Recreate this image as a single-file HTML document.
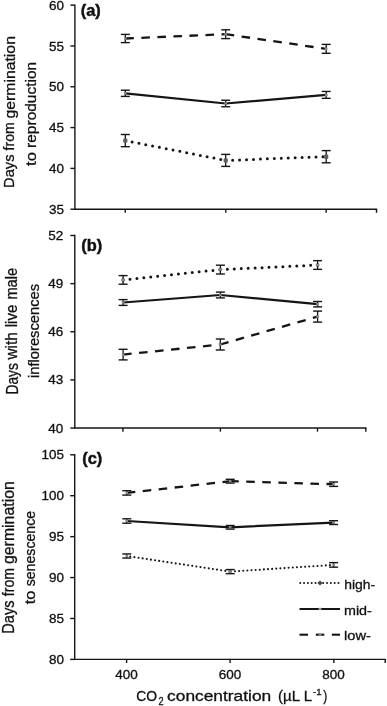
<!DOCTYPE html>
<html lang="en">
<head>
<meta charset="utf-8">
<title>Figure</title>
<style>
html,body{margin:0;padding:0;background:#fff;}
body{width:387px;height:706px;overflow:hidden;}
svg{display:block;font-family:'Liberation Sans', Arial, sans-serif;}
</style>
</head>
<body>
<svg width="387" height="706" viewBox="0 0 387 706">
<rect width="387" height="706" fill="#fff"/>
<line x1="74.90" y1="4.45" x2="74.90" y2="209.90" stroke="#151515" stroke-width="1.4" />
<line x1="74.90" y1="209.20" x2="377.20" y2="209.20" stroke="#151515" stroke-width="1.4" />
<line x1="70.40" y1="5.15" x2="74.90" y2="5.15" stroke="#151515" stroke-width="1.4" />
<text x="64.00" y="9.72" font-size="12.2" text-anchor="end" font-weight="normal" fill="#111" stroke="#111" stroke-width="0.3" textLength="15.0" lengthAdjust="spacingAndGlyphs">60</text>
<line x1="70.40" y1="45.96" x2="74.90" y2="45.96" stroke="#151515" stroke-width="1.4" />
<text x="64.00" y="50.59" font-size="12.2" text-anchor="end" font-weight="normal" fill="#111" stroke="#111" stroke-width="0.3" textLength="15.0" lengthAdjust="spacingAndGlyphs">55</text>
<line x1="70.40" y1="86.77" x2="74.90" y2="86.77" stroke="#151515" stroke-width="1.4" />
<text x="64.00" y="91.46" font-size="12.2" text-anchor="end" font-weight="normal" fill="#111" stroke="#111" stroke-width="0.3" textLength="15.0" lengthAdjust="spacingAndGlyphs">50</text>
<line x1="70.40" y1="127.58" x2="74.90" y2="127.58" stroke="#151515" stroke-width="1.4" />
<text x="64.00" y="132.33" font-size="12.2" text-anchor="end" font-weight="normal" fill="#111" stroke="#111" stroke-width="0.3" textLength="15.0" lengthAdjust="spacingAndGlyphs">45</text>
<line x1="70.40" y1="168.39" x2="74.90" y2="168.39" stroke="#151515" stroke-width="1.4" />
<text x="64.00" y="173.20" font-size="12.2" text-anchor="end" font-weight="normal" fill="#111" stroke="#111" stroke-width="0.3" textLength="15.0" lengthAdjust="spacingAndGlyphs">40</text>
<line x1="70.40" y1="209.20" x2="74.90" y2="209.20" stroke="#151515" stroke-width="1.4" />
<text x="64.00" y="214.07" font-size="12.2" text-anchor="end" font-weight="normal" fill="#111" stroke="#111" stroke-width="0.3" textLength="15.0" lengthAdjust="spacingAndGlyphs">35</text>
<line x1="125.30" y1="209.20" x2="125.30" y2="212.80" stroke="#151515" stroke-width="1.4" />
<line x1="225.75" y1="209.20" x2="225.75" y2="212.80" stroke="#151515" stroke-width="1.4" />
<line x1="326.20" y1="209.20" x2="326.20" y2="212.80" stroke="#151515" stroke-width="1.4" />
<line x1="376.50" y1="209.20" x2="376.50" y2="212.80" stroke="#151515" stroke-width="1.4" />
<text x="80.80" y="15.60" font-size="16.4" text-anchor="start" font-weight="bold" fill="#111" stroke="#111" stroke-width="0.45">(a)</text>
<text x="14.50" y="187.90" font-size="15.2" text-anchor="start" font-weight="normal" fill="#111" stroke="#111" stroke-width="0.3" textLength="33.4" lengthAdjust="spacingAndGlyphs" transform="rotate(-90 14.50 187.90)">Days</text>
<text x="14.50" y="150.40" font-size="15.2" text-anchor="start" font-weight="normal" fill="#111" stroke="#111" stroke-width="0.3" textLength="28.1" lengthAdjust="spacingAndGlyphs" transform="rotate(-90 14.50 150.40)">from</text>
<text x="14.50" y="118.50" font-size="15.2" text-anchor="start" font-weight="normal" fill="#111" stroke="#111" stroke-width="0.3" textLength="82.4" lengthAdjust="spacingAndGlyphs" transform="rotate(-90 14.50 118.50)">germination</text>
<text x="36.00" y="166.00" font-size="15.2" text-anchor="start" font-weight="normal" fill="#111" stroke="#111" stroke-width="0.3" textLength="13.9" lengthAdjust="spacingAndGlyphs" transform="rotate(-90 36.00 166.00)">to</text>
<text x="36.00" y="147.90" font-size="15.2" text-anchor="start" font-weight="normal" fill="#111" stroke="#111" stroke-width="0.3" textLength="86.1" lengthAdjust="spacingAndGlyphs" transform="rotate(-90 36.00 147.90)">reproduction</text>
<path d="M125.30 38.50 L225.70 34.20" fill="none" stroke="#151515" stroke-width="2.3" stroke-dasharray="8.55 7.5"/>
<path d="M225.70 34.20 L326.20 48.85" fill="none" stroke="#151515" stroke-width="2.3" stroke-dasharray="8.55 7.5"/>
<line x1="125.30" y1="34.40" x2="125.30" y2="42.60" stroke="#151515" stroke-width="1.3" />
<line x1="120.80" y1="34.40" x2="129.80" y2="34.40" stroke="#151515" stroke-width="1.4" />
<line x1="120.80" y1="42.60" x2="129.80" y2="42.60" stroke="#151515" stroke-width="1.4" />
<rect x="124.00" y="37.30" width="2.6" height="2.4" fill="#8a8a8a"/>
<line x1="225.70" y1="29.80" x2="225.70" y2="38.60" stroke="#151515" stroke-width="1.3" />
<line x1="221.20" y1="29.80" x2="230.20" y2="29.80" stroke="#151515" stroke-width="1.4" />
<line x1="221.20" y1="38.60" x2="230.20" y2="38.60" stroke="#151515" stroke-width="1.4" />
<rect x="224.40" y="33.00" width="2.6" height="2.4" fill="#8a8a8a"/>
<line x1="326.20" y1="44.40" x2="326.20" y2="53.30" stroke="#151515" stroke-width="1.3" />
<line x1="321.70" y1="44.40" x2="330.70" y2="44.40" stroke="#151515" stroke-width="1.4" />
<line x1="321.70" y1="53.30" x2="330.70" y2="53.30" stroke="#151515" stroke-width="1.4" />
<rect x="324.90" y="47.65" width="2.6" height="2.4" fill="#8a8a8a"/>
<path d="M125.30 93.30 L225.70 103.50" fill="none" stroke="#151515" stroke-width="2.25" stroke-linecap="round"/>
<path d="M225.70 103.50 L326.20 94.90" fill="none" stroke="#151515" stroke-width="2.25" stroke-linecap="round"/>
<line x1="125.30" y1="90.20" x2="125.30" y2="96.40" stroke="#151515" stroke-width="1.3" />
<line x1="120.80" y1="90.20" x2="129.80" y2="90.20" stroke="#151515" stroke-width="1.4" />
<line x1="120.80" y1="96.40" x2="129.80" y2="96.40" stroke="#151515" stroke-width="1.4" />
<rect x="124.00" y="92.10" width="2.6" height="2.4" fill="#8a8a8a"/>
<line x1="225.70" y1="100.25" x2="225.70" y2="106.75" stroke="#151515" stroke-width="1.3" />
<line x1="221.20" y1="100.25" x2="230.20" y2="100.25" stroke="#151515" stroke-width="1.4" />
<line x1="221.20" y1="106.75" x2="230.20" y2="106.75" stroke="#151515" stroke-width="1.4" />
<rect x="224.40" y="102.30" width="2.6" height="2.4" fill="#8a8a8a"/>
<line x1="326.20" y1="91.45" x2="326.20" y2="98.35" stroke="#151515" stroke-width="1.3" />
<line x1="321.70" y1="91.45" x2="330.70" y2="91.45" stroke="#151515" stroke-width="1.4" />
<line x1="321.70" y1="98.35" x2="330.70" y2="98.35" stroke="#151515" stroke-width="1.4" />
<rect x="324.90" y="93.70" width="2.6" height="2.4" fill="#8a8a8a"/>
<path d="M125.30 140.60 L225.70 160.40" fill="none" stroke="#151515" stroke-width="3" stroke-dasharray="0 6.95" stroke-linecap="round"/>
<path d="M225.70 160.40 L326.20 156.70" fill="none" stroke="#151515" stroke-width="3" stroke-dasharray="0 6.95" stroke-linecap="round"/>
<line x1="125.30" y1="134.50" x2="125.30" y2="146.70" stroke="#151515" stroke-width="1.3" />
<line x1="120.80" y1="134.50" x2="129.80" y2="134.50" stroke="#151515" stroke-width="1.4" />
<line x1="120.80" y1="146.70" x2="129.80" y2="146.70" stroke="#151515" stroke-width="1.4" />
<rect x="123.20" y="138.50" width="4.2" height="4.3" rx="1.2" fill="#5e5e5e"/>
<line x1="225.70" y1="154.40" x2="225.70" y2="166.40" stroke="#151515" stroke-width="1.3" />
<line x1="221.20" y1="154.40" x2="230.20" y2="154.40" stroke="#151515" stroke-width="1.4" />
<line x1="221.20" y1="166.40" x2="230.20" y2="166.40" stroke="#151515" stroke-width="1.4" />
<rect x="223.60" y="158.30" width="4.2" height="4.3" rx="1.2" fill="#5e5e5e"/>
<line x1="326.20" y1="150.60" x2="326.20" y2="162.80" stroke="#151515" stroke-width="1.3" />
<line x1="321.70" y1="150.60" x2="330.70" y2="150.60" stroke="#151515" stroke-width="1.4" />
<line x1="321.70" y1="162.80" x2="330.70" y2="162.80" stroke="#151515" stroke-width="1.4" />
<rect x="324.10" y="154.60" width="4.2" height="4.3" rx="1.2" fill="#5e5e5e"/>
<line x1="74.80" y1="234.80" x2="74.80" y2="428.75" stroke="#151515" stroke-width="1.4" />
<line x1="74.80" y1="428.05" x2="366.50" y2="428.05" stroke="#151515" stroke-width="1.4" />
<line x1="70.30" y1="235.50" x2="74.80" y2="235.50" stroke="#151515" stroke-width="1.4" />
<text x="63.20" y="239.57" font-size="12.2" text-anchor="end" font-weight="normal" fill="#111" stroke="#111" stroke-width="0.3" textLength="15.0" lengthAdjust="spacingAndGlyphs">52</text>
<line x1="70.30" y1="283.64" x2="74.80" y2="283.64" stroke="#151515" stroke-width="1.4" />
<text x="63.20" y="287.81" font-size="12.2" text-anchor="end" font-weight="normal" fill="#111" stroke="#111" stroke-width="0.3" textLength="15.0" lengthAdjust="spacingAndGlyphs">49</text>
<line x1="70.30" y1="331.77" x2="74.80" y2="331.77" stroke="#151515" stroke-width="1.4" />
<text x="63.20" y="336.04" font-size="12.2" text-anchor="end" font-weight="normal" fill="#111" stroke="#111" stroke-width="0.3" textLength="15.0" lengthAdjust="spacingAndGlyphs">46</text>
<line x1="70.30" y1="379.91" x2="74.80" y2="379.91" stroke="#151515" stroke-width="1.4" />
<text x="63.20" y="384.28" font-size="12.2" text-anchor="end" font-weight="normal" fill="#111" stroke="#111" stroke-width="0.3" textLength="15.0" lengthAdjust="spacingAndGlyphs">43</text>
<line x1="70.30" y1="428.05" x2="74.80" y2="428.05" stroke="#151515" stroke-width="1.4" />
<text x="63.20" y="432.52" font-size="12.2" text-anchor="end" font-weight="normal" fill="#111" stroke="#111" stroke-width="0.3" textLength="15.0" lengthAdjust="spacingAndGlyphs">40</text>
<line x1="122.90" y1="428.05" x2="122.90" y2="431.65" stroke="#151515" stroke-width="1.4" />
<line x1="220.40" y1="428.05" x2="220.40" y2="431.65" stroke="#151515" stroke-width="1.4" />
<line x1="317.50" y1="428.05" x2="317.50" y2="431.65" stroke="#151515" stroke-width="1.4" />
<line x1="365.80" y1="428.05" x2="365.80" y2="431.65" stroke="#151515" stroke-width="1.4" />
<text x="81.20" y="251.20" font-size="16.4" text-anchor="start" font-weight="bold" fill="#111" stroke="#111" stroke-width="0.45">(b)</text>
<text x="17.50" y="394.50" font-size="15.7" text-anchor="start" font-weight="normal" fill="#111" stroke="#111" stroke-width="0.3" textLength="31.4" lengthAdjust="spacingAndGlyphs" transform="rotate(-90 17.50 394.50)">Days</text>
<text x="17.50" y="359.52" font-size="15.7" text-anchor="start" font-weight="normal" fill="#111" stroke="#111" stroke-width="0.3" textLength="27.3" lengthAdjust="spacingAndGlyphs" transform="rotate(-90 17.50 359.52)">with</text>
<text x="17.50" y="327.30" font-size="15.7" text-anchor="start" font-weight="normal" fill="#111" stroke="#111" stroke-width="0.3" textLength="22.6" lengthAdjust="spacingAndGlyphs" transform="rotate(-90 17.50 327.30)">live</text>
<text x="17.50" y="299.60" font-size="15.7" text-anchor="start" font-weight="normal" fill="#111" stroke="#111" stroke-width="0.3" textLength="31.7" lengthAdjust="spacingAndGlyphs" transform="rotate(-90 17.50 299.60)">male</text>
<text x="38.80" y="378.00" font-size="15.4" text-anchor="start" font-weight="normal" fill="#111" stroke="#111" stroke-width="0.3" textLength="94.1" lengthAdjust="spacingAndGlyphs" transform="rotate(-90 38.80 378.00)">inflorescences</text>
<path d="M123.10 279.90 L220.40 269.60" fill="none" stroke="#151515" stroke-width="3" stroke-dasharray="0 6.95" stroke-linecap="round"/>
<path d="M220.40 269.60 L317.60 265.00" fill="none" stroke="#151515" stroke-width="3" stroke-dasharray="0 6.95" stroke-linecap="round"/>
<path d="M123.10 277.30 L125.30 279.90 L123.10 282.50 L120.90 279.90 Z" fill="#7a7a7a"/>
<line x1="123.10" y1="275.60" x2="123.10" y2="284.20" stroke="#151515" stroke-width="1.3" />
<line x1="118.60" y1="275.60" x2="127.60" y2="275.60" stroke="#151515" stroke-width="1.4" />
<line x1="118.60" y1="284.20" x2="127.60" y2="284.20" stroke="#151515" stroke-width="1.4" />
<rect x="121.80" y="278.70" width="2.6" height="2.4" fill="#8a8a8a"/>
<path d="M220.40 267.00 L222.60 269.60 L220.40 272.20 L218.20 269.60 Z" fill="#7a7a7a"/>
<line x1="220.40" y1="265.20" x2="220.40" y2="274.00" stroke="#151515" stroke-width="1.3" />
<line x1="215.90" y1="265.20" x2="224.90" y2="265.20" stroke="#151515" stroke-width="1.4" />
<line x1="215.90" y1="274.00" x2="224.90" y2="274.00" stroke="#151515" stroke-width="1.4" />
<rect x="219.10" y="268.40" width="2.6" height="2.4" fill="#8a8a8a"/>
<path d="M317.60 262.40 L319.80 265.00 L317.60 267.60 L315.40 265.00 Z" fill="#7a7a7a"/>
<line x1="317.60" y1="260.65" x2="317.60" y2="269.35" stroke="#151515" stroke-width="1.3" />
<line x1="313.10" y1="260.65" x2="322.10" y2="260.65" stroke="#151515" stroke-width="1.4" />
<line x1="313.10" y1="269.35" x2="322.10" y2="269.35" stroke="#151515" stroke-width="1.4" />
<rect x="316.30" y="263.80" width="2.6" height="2.4" fill="#8a8a8a"/>
<path d="M123.10 302.50 L220.40 295.00" fill="none" stroke="#151515" stroke-width="2.25" stroke-linecap="round"/>
<path d="M220.40 295.00 L317.60 304.20" fill="none" stroke="#151515" stroke-width="2.25" stroke-linecap="round"/>
<line x1="123.10" y1="299.60" x2="123.10" y2="305.40" stroke="#151515" stroke-width="1.3" />
<line x1="118.60" y1="299.60" x2="127.60" y2="299.60" stroke="#151515" stroke-width="1.4" />
<line x1="118.60" y1="305.40" x2="127.60" y2="305.40" stroke="#151515" stroke-width="1.4" />
<rect x="121.80" y="301.30" width="2.6" height="2.4" fill="#8a8a8a"/>
<line x1="220.40" y1="292.10" x2="220.40" y2="297.90" stroke="#151515" stroke-width="1.3" />
<line x1="215.90" y1="292.10" x2="224.90" y2="292.10" stroke="#151515" stroke-width="1.4" />
<line x1="215.90" y1="297.90" x2="224.90" y2="297.90" stroke="#151515" stroke-width="1.4" />
<rect x="219.10" y="293.80" width="2.6" height="2.4" fill="#8a8a8a"/>
<line x1="317.60" y1="301.50" x2="317.60" y2="306.90" stroke="#151515" stroke-width="1.3" />
<line x1="313.10" y1="301.50" x2="322.10" y2="301.50" stroke="#151515" stroke-width="1.4" />
<line x1="313.10" y1="306.90" x2="322.10" y2="306.90" stroke="#151515" stroke-width="1.4" />
<rect x="316.30" y="303.00" width="2.6" height="2.4" fill="#8a8a8a"/>
<path d="M123.10 354.60 L220.30 344.50" fill="none" stroke="#151515" stroke-width="2.3" stroke-dasharray="8.55 7.5"/>
<path d="M220.30 344.50 L317.60 316.60" fill="none" stroke="#151515" stroke-width="2.3" stroke-dasharray="8.55 7.5"/>
<line x1="123.10" y1="349.30" x2="123.10" y2="359.90" stroke="#151515" stroke-width="1.3" />
<line x1="118.60" y1="349.30" x2="127.60" y2="349.30" stroke="#151515" stroke-width="1.4" />
<line x1="118.60" y1="359.90" x2="127.60" y2="359.90" stroke="#151515" stroke-width="1.4" />
<rect x="121.80" y="353.40" width="2.6" height="2.4" fill="#8a8a8a"/>
<line x1="220.30" y1="339.00" x2="220.30" y2="350.00" stroke="#151515" stroke-width="1.3" />
<line x1="215.80" y1="339.00" x2="224.80" y2="339.00" stroke="#151515" stroke-width="1.4" />
<line x1="215.80" y1="350.00" x2="224.80" y2="350.00" stroke="#151515" stroke-width="1.4" />
<rect x="219.00" y="343.30" width="2.6" height="2.4" fill="#8a8a8a"/>
<line x1="317.60" y1="311.10" x2="317.60" y2="322.10" stroke="#151515" stroke-width="1.3" />
<line x1="313.10" y1="311.10" x2="322.10" y2="311.10" stroke="#151515" stroke-width="1.4" />
<line x1="313.10" y1="322.10" x2="322.10" y2="322.10" stroke="#151515" stroke-width="1.4" />
<rect x="316.30" y="315.40" width="2.6" height="2.4" fill="#8a8a8a"/>
<line x1="74.70" y1="454.10" x2="74.70" y2="660.10" stroke="#151515" stroke-width="1.4" />
<line x1="74.70" y1="659.40" x2="385.90" y2="659.40" stroke="#151515" stroke-width="1.4" />
<line x1="70.20" y1="454.80" x2="74.70" y2="454.80" stroke="#151515" stroke-width="1.4" />
<text x="64.00" y="458.97" font-size="12.2" text-anchor="end" font-weight="normal" fill="#111" stroke="#111" stroke-width="0.3" textLength="22.4" lengthAdjust="spacingAndGlyphs">105</text>
<line x1="70.20" y1="495.72" x2="74.70" y2="495.72" stroke="#151515" stroke-width="1.4" />
<text x="64.00" y="499.93" font-size="12.2" text-anchor="end" font-weight="normal" fill="#111" stroke="#111" stroke-width="0.3" textLength="22.4" lengthAdjust="spacingAndGlyphs">100</text>
<line x1="70.20" y1="536.64" x2="74.70" y2="536.64" stroke="#151515" stroke-width="1.4" />
<text x="64.00" y="540.89" font-size="12.2" text-anchor="end" font-weight="normal" fill="#111" stroke="#111" stroke-width="0.3" textLength="15.0" lengthAdjust="spacingAndGlyphs">95</text>
<line x1="70.20" y1="577.56" x2="74.70" y2="577.56" stroke="#151515" stroke-width="1.4" />
<text x="64.00" y="581.85" font-size="12.2" text-anchor="end" font-weight="normal" fill="#111" stroke="#111" stroke-width="0.3" textLength="15.0" lengthAdjust="spacingAndGlyphs">90</text>
<line x1="70.20" y1="618.48" x2="74.70" y2="618.48" stroke="#151515" stroke-width="1.4" />
<text x="64.00" y="622.81" font-size="12.2" text-anchor="end" font-weight="normal" fill="#111" stroke="#111" stroke-width="0.3" textLength="15.0" lengthAdjust="spacingAndGlyphs">85</text>
<line x1="70.20" y1="659.40" x2="74.70" y2="659.40" stroke="#151515" stroke-width="1.4" />
<text x="64.00" y="663.77" font-size="12.2" text-anchor="end" font-weight="normal" fill="#111" stroke="#111" stroke-width="0.3" textLength="15.0" lengthAdjust="spacingAndGlyphs">80</text>
<line x1="126.60" y1="659.40" x2="126.60" y2="663.00" stroke="#151515" stroke-width="1.4" />
<line x1="230.10" y1="659.40" x2="230.10" y2="663.00" stroke="#151515" stroke-width="1.4" />
<line x1="333.80" y1="659.40" x2="333.80" y2="663.00" stroke="#151515" stroke-width="1.4" />
<line x1="385.20" y1="659.40" x2="385.20" y2="663.00" stroke="#151515" stroke-width="1.4" />
<text x="82.20" y="463.60" font-size="16.4" text-anchor="start" font-weight="bold" fill="#111" stroke="#111" stroke-width="0.45">(c)</text>
<text x="13.80" y="633.70" font-size="15.7" text-anchor="start" font-weight="normal" fill="#111" stroke="#111" stroke-width="0.3" textLength="33.3" lengthAdjust="spacingAndGlyphs" transform="rotate(-90 13.80 633.70)">Days</text>
<text x="13.80" y="596.20" font-size="15.7" text-anchor="start" font-weight="normal" fill="#111" stroke="#111" stroke-width="0.3" textLength="28.1" lengthAdjust="spacingAndGlyphs" transform="rotate(-90 13.80 596.20)">from</text>
<text x="13.80" y="564.00" font-size="15.7" text-anchor="start" font-weight="normal" fill="#111" stroke="#111" stroke-width="0.3" textLength="82.8" lengthAdjust="spacingAndGlyphs" transform="rotate(-90 13.80 564.00)">germination</text>
<text x="35.20" y="604.20" font-size="15.4" text-anchor="start" font-weight="normal" fill="#111" stroke="#111" stroke-width="0.3" textLength="13.7" lengthAdjust="spacingAndGlyphs" transform="rotate(-90 35.20 604.20)">to</text>
<text x="35.20" y="586.30" font-size="15.4" text-anchor="start" font-weight="normal" fill="#111" stroke="#111" stroke-width="0.3" textLength="75.4" lengthAdjust="spacingAndGlyphs" transform="rotate(-90 35.20 586.30)">senescence</text>
<path d="M126.80 492.90 L230.20 481.20" fill="none" stroke="#151515" stroke-width="2.3" stroke-dasharray="8.55 7.5"/>
<path d="M230.20 481.20 L333.60 484.20" fill="none" stroke="#151515" stroke-width="2.3" stroke-dasharray="8.55 7.5"/>
<line x1="126.80" y1="490.70" x2="126.80" y2="495.10" stroke="#151515" stroke-width="1.3" />
<line x1="122.30" y1="490.70" x2="131.30" y2="490.70" stroke="#151515" stroke-width="1.4" />
<line x1="122.30" y1="495.10" x2="131.30" y2="495.10" stroke="#151515" stroke-width="1.4" />
<rect x="125.50" y="491.70" width="2.6" height="2.4" fill="#8a8a8a"/>
<line x1="230.20" y1="479.30" x2="230.20" y2="483.10" stroke="#151515" stroke-width="1.3" />
<line x1="225.70" y1="479.30" x2="234.70" y2="479.30" stroke="#151515" stroke-width="1.4" />
<line x1="225.70" y1="483.10" x2="234.70" y2="483.10" stroke="#151515" stroke-width="1.4" />
<rect x="228.90" y="480.00" width="2.6" height="2.4" fill="#8a8a8a"/>
<line x1="333.60" y1="482.00" x2="333.60" y2="486.40" stroke="#151515" stroke-width="1.3" />
<line x1="329.10" y1="482.00" x2="338.10" y2="482.00" stroke="#151515" stroke-width="1.4" />
<line x1="329.10" y1="486.40" x2="338.10" y2="486.40" stroke="#151515" stroke-width="1.4" />
<rect x="332.30" y="483.00" width="2.6" height="2.4" fill="#8a8a8a"/>
<path d="M126.80 521.00 L230.20 527.30" fill="none" stroke="#151515" stroke-width="2.25" stroke-linecap="round"/>
<path d="M230.20 527.30 L333.60 522.60" fill="none" stroke="#151515" stroke-width="2.25" stroke-linecap="round"/>
<line x1="126.80" y1="518.80" x2="126.80" y2="523.20" stroke="#151515" stroke-width="1.3" />
<line x1="122.30" y1="518.80" x2="131.30" y2="518.80" stroke="#151515" stroke-width="1.4" />
<line x1="122.30" y1="523.20" x2="131.30" y2="523.20" stroke="#151515" stroke-width="1.4" />
<rect x="125.50" y="519.80" width="2.6" height="2.4" fill="#8a8a8a"/>
<line x1="230.20" y1="525.50" x2="230.20" y2="529.10" stroke="#151515" stroke-width="1.3" />
<line x1="225.70" y1="525.50" x2="234.70" y2="525.50" stroke="#151515" stroke-width="1.4" />
<line x1="225.70" y1="529.10" x2="234.70" y2="529.10" stroke="#151515" stroke-width="1.4" />
<rect x="228.90" y="526.10" width="2.6" height="2.4" fill="#8a8a8a"/>
<line x1="333.60" y1="520.70" x2="333.60" y2="524.50" stroke="#151515" stroke-width="1.3" />
<line x1="329.10" y1="520.70" x2="338.10" y2="520.70" stroke="#151515" stroke-width="1.4" />
<line x1="329.10" y1="524.50" x2="338.10" y2="524.50" stroke="#151515" stroke-width="1.4" />
<rect x="332.30" y="521.40" width="2.6" height="2.4" fill="#8a8a8a"/>
<path d="M126.80 556.00 L230.20 571.60" fill="none" stroke="#151515" stroke-width="2.1" stroke-dasharray="0 4.177" stroke-dashoffset="0.67" stroke-linecap="round"/>
<path d="M230.20 571.60 L333.60 564.90" fill="none" stroke="#151515" stroke-width="2.1" stroke-dasharray="0 4.134" stroke-dashoffset="3.45" stroke-linecap="round"/>
<line x1="126.80" y1="553.95" x2="126.80" y2="558.05" stroke="#151515" stroke-width="1.3" />
<line x1="122.30" y1="553.95" x2="131.30" y2="553.95" stroke="#151515" stroke-width="1.4" />
<line x1="122.30" y1="558.05" x2="131.30" y2="558.05" stroke="#151515" stroke-width="1.4" />
<rect x="125.50" y="554.80" width="2.6" height="2.4" fill="#8a8a8a"/>
<line x1="230.20" y1="569.55" x2="230.20" y2="573.65" stroke="#151515" stroke-width="1.3" />
<line x1="225.70" y1="569.55" x2="234.70" y2="569.55" stroke="#151515" stroke-width="1.4" />
<line x1="225.70" y1="573.65" x2="234.70" y2="573.65" stroke="#151515" stroke-width="1.4" />
<rect x="228.90" y="570.40" width="2.6" height="2.4" fill="#8a8a8a"/>
<line x1="333.60" y1="562.65" x2="333.60" y2="567.15" stroke="#151515" stroke-width="1.3" />
<line x1="329.10" y1="562.65" x2="338.10" y2="562.65" stroke="#151515" stroke-width="1.4" />
<line x1="329.10" y1="567.15" x2="338.10" y2="567.15" stroke="#151515" stroke-width="1.4" />
<rect x="332.30" y="563.70" width="2.6" height="2.4" fill="#8a8a8a"/>
<text x="115.20" y="678.70" font-size="12.2" text-anchor="start" font-weight="normal" fill="#111" stroke="#111" stroke-width="0.3" textLength="22.5" lengthAdjust="spacingAndGlyphs">400</text>
<text x="218.75" y="678.70" font-size="12.2" text-anchor="start" font-weight="normal" fill="#111" stroke="#111" stroke-width="0.3" textLength="22.5" lengthAdjust="spacingAndGlyphs">600</text>
<text x="322.25" y="678.70" font-size="12.2" text-anchor="start" font-weight="normal" fill="#111" stroke="#111" stroke-width="0.3" textLength="22.5" lengthAdjust="spacingAndGlyphs">800</text>
<text x="136.30" y="701.20" font-size="14.6" text-anchor="start" font-weight="normal" fill="#111" stroke="#111" stroke-width="0.3" textLength="20.8" lengthAdjust="spacingAndGlyphs">CO</text>
<text x="158.40" y="705.10" font-size="10.4" text-anchor="start" font-weight="normal" fill="#111" stroke="#111" stroke-width="0.3" textLength="5.1" lengthAdjust="spacingAndGlyphs">2</text>
<text x="167.10" y="701.20" font-size="14.6" text-anchor="start" font-weight="normal" fill="#111" stroke="#111" stroke-width="0.3" textLength="104.1" lengthAdjust="spacingAndGlyphs">concentration</text>
<text x="278.10" y="701.20" font-size="14.6" text-anchor="start" font-weight="normal" fill="#111" stroke="#111" stroke-width="0.3" textLength="34.0" lengthAdjust="spacingAndGlyphs">(µL L</text>
<text x="313.00" y="695.30" font-size="8.8" text-anchor="start" font-weight="normal" fill="#111" stroke="#111" stroke-width="0.3" textLength="8.5" lengthAdjust="spacingAndGlyphs">-1</text>
<text x="323.30" y="701.20" font-size="14.6" text-anchor="start" font-weight="normal" fill="#111" stroke="#111" stroke-width="0.3" textLength="4.0" lengthAdjust="spacingAndGlyphs">)</text>
<path d="M300.2 583 L339.5 583" fill="none" stroke="#151515" stroke-width="2.0" stroke-dasharray="0 3.83" stroke-linecap="round"/>
<path d="M320 580.4 L322.6 583 L320 585.6 L317.4 583 Z" fill="#444"/>
<text x="344.20" y="588.50" font-size="13.0" text-anchor="start" font-weight="normal" fill="#111" stroke="#111" stroke-width="0.3" textLength="30.9" lengthAdjust="spacingAndGlyphs">high-</text>
<line x1="299.50" y1="609.00" x2="340.00" y2="609.00" stroke="#151515" stroke-width="2.1" />
<rect x="318.6" y="607.8" width="2.8" height="2.4" fill="#999"/>
<text x="344.00" y="614.50" font-size="13.0" text-anchor="start" font-weight="normal" fill="#111" stroke="#111" stroke-width="0.3" textLength="27.8" lengthAdjust="spacingAndGlyphs">mid-</text>
<line x1="299.50" y1="634.70" x2="308.00" y2="634.70" stroke="#151515" stroke-width="2.1" />
<line x1="315.80" y1="634.70" x2="324.30" y2="634.70" stroke="#151515" stroke-width="2.1" />
<line x1="331.80" y1="634.70" x2="340.00" y2="634.70" stroke="#151515" stroke-width="2.1" />
<rect x="318.6" y="633.5" width="2.8" height="2.4" fill="#888"/>
<text x="344.00" y="639.70" font-size="13.0" text-anchor="start" font-weight="normal" fill="#111" stroke="#111" stroke-width="0.3" textLength="26.9" lengthAdjust="spacingAndGlyphs">low-</text>
</svg>
</body>
</html>
